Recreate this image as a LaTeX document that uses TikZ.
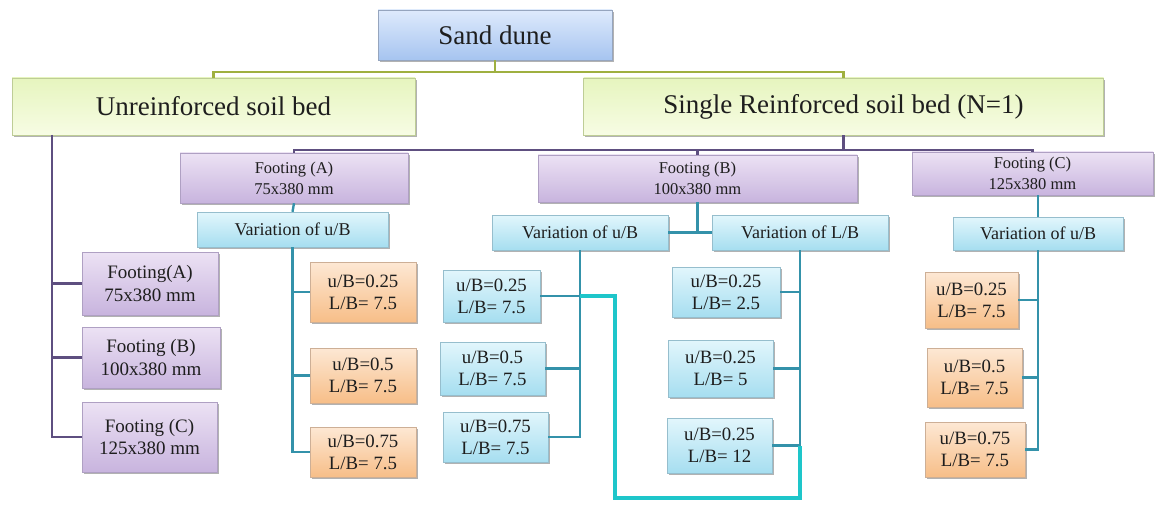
\documentclass[tikz,border=0pt]{standalone}
\usepackage{fontspec}
\setmainfont{Liberation Serif}
\usetikzlibrary{shadows}
\definecolor{txt}{HTML}{1E1E1E}
\definecolor{lgreen}{HTML}{9FB040}
\definecolor{lpurp}{HTML}{5E4F80}
\definecolor{lteal}{HTML}{3492AA}
\definecolor{lcyan}{HTML}{1EC6CA}
\tikzset{
  box/.style={rectangle, inner sep=0pt, align=center, text=txt,
    drop shadow={shadow xshift=1.5pt, shadow yshift=-2pt, opacity=0.3, fill=black}},
  bluebox/.style={box, draw={rgb,255:red,150;green,165;blue,190},
    top color={rgb,255:red,222;green,234;blue,252}, bottom color={rgb,255:red,166;green,196;blue,240}},
  grnbox/.style={box, draw={rgb,255:red,190;green,205;blue,150},
    top color={rgb,255:red,230;green,245;blue,190}, bottom color={rgb,255:red,247;green,252;blue,228}},
  purbox/.style={box, draw={rgb,255:red,175;green,160;blue,195},
    top color={rgb,255:red,236;green,226;blue,244}, bottom color={rgb,255:red,200;green,180;blue,222}},
  cyanbox/.style={box, draw={rgb,255:red,150;green,190;blue,205},
    top color={rgb,255:red,226;green,246;blue,252}, bottom color={rgb,255:red,166;green,222;blue,240}},
  orgbox/.style={box, draw={rgb,255:red,205;green,175;blue,150},
    top color={rgb,255:red,253;green,232;blue,212}, bottom color={rgb,255:red,247;green,190;blue,136}},
  big/.style={font=\fontsize{27}{30}\selectfont},
  mid/.style={font=\fontsize{16.5}{21}\selectfont},
  midl/.style={font=\fontsize{19}{22.5}\selectfont},
  var/.style={font=\fontsize{18}{20}\selectfont},
  val/.style={font=\fontsize{18.8}{22}\selectfont},
  gline/.style={draw=lgreen, line width=2.6pt},
  pline/.style={draw=lpurp, line width=2.6pt},
  tline/.style={draw=lteal, line width=2.4pt},
  hline/.style={draw=lcyan, line width=4pt},
}
\begin{document}
\begin{tikzpicture}[x=1pt, y=-1pt]
\useasboundingbox (0,0) rectangle (1158,505);
% level 0 and 1
\node[bluebox, big, minimum width=234pt, minimum height=50pt] (sd) at (495,35) {Sand dune};
\node[grnbox, big, minimum width=403pt, minimum height=57pt] (unr) at (213.5,106.5) {Unreinforced soil bed};
\node[grnbox, big, minimum width=520pt, minimum height=57pt] (sr) at (843.5,106.5) {Single Reinforced soil bed (N=1)};
% unreinforced footings
\node[purbox, midl, minimum width=136pt, minimum height=63pt] (lA) at (150,283.5) {Footing(A)\\75x380 mm};
\node[purbox, midl, minimum width=138pt, minimum height=61pt] (lB) at (151,357.5) {Footing (B)\\100x380 mm};
\node[purbox, midl, minimum width=135pt, minimum height=70pt] (lC) at (149.5,437) {Footing (C)\\125x380 mm};
% reinforced footings
\node[purbox, mid, minimum width=228pt, minimum height=50pt] (fA) at (294,178) {Footing (A)\\75x380 mm};
\node[purbox, mid, minimum width=319pt, minimum height=47pt] (fB) at (697.5,178.5) {Footing (B)\\100x380 mm};
\node[purbox, mid, minimum width=241pt, minimum height=43pt] (fC) at (1032.5,173.5) {Footing (C)\\125x380 mm};
% variation nodes
\node[cyanbox, var, minimum width=191pt, minimum height=35pt] (vA) at (292.5,229.5) {Variation of u/B};
\node[cyanbox, var, minimum width=176pt, minimum height=35pt] (vBu) at (580,232.5) {Variation of u/B};
\node[cyanbox, var, minimum width=176pt, minimum height=35pt] (vBl) at (800,232.5) {Variation of L/B};
\node[cyanbox, var, minimum width=170pt, minimum height=33pt] (vC) at (1038,233.5) {Variation of u/B};
% footing A values
\node[orgbox, val, minimum width=106pt, minimum height=60pt] (oA1) at (363,292) {u/B=0.25\\L/B= 7.5};
\node[orgbox, val, minimum width=106pt, minimum height=55pt] (oA2) at (363,375.5) {u/B=0.5\\L/B= 7.5};
\node[orgbox, val, minimum width=106pt, minimum height=50pt] (oA3) at (363,452) {u/B=0.75\\L/B= 7.5};
% footing B u/B values
\node[cyanbox, val, minimum width=97pt, minimum height=52pt] (bL1) at (491.5,296) {u/B=0.25\\L/B= 7.5};
\node[cyanbox, val, minimum width=105pt, minimum height=53pt] (bL2) at (492.5,368.5) {u/B=0.5\\L/B= 7.5};
\node[cyanbox, val, minimum width=105pt, minimum height=50pt] (bL3) at (495.5,437) {u/B=0.75\\L/B= 7.5};
% footing B L/B values
\node[cyanbox, val, minimum width=108pt, minimum height=50pt] (bR1) at (726,292) {u/B=0.25\\L/B= 2.5};
\node[cyanbox, val, minimum width=105pt, minimum height=57pt] (bR2) at (720.5,368.5) {u/B=0.25\\L/B= 5};
\node[cyanbox, val, minimum width=105pt, minimum height=55pt] (bR3) at (719.5,445.5) {u/B=0.25\\L/B= 12};
% footing C values
\node[orgbox, val, minimum width=93pt, minimum height=56pt] (oC1) at (971.5,300) {u/B=0.25\\L/B= 7.5};
\node[orgbox, val, minimum width=95pt, minimum height=59pt] (oC2) at (974.5,377.5) {u/B=0.5\\L/B= 7.5};
\node[orgbox, val, minimum width=100pt, minimum height=55pt] (oC3) at (975,449.5) {u/B=0.75\\L/B= 7.5};
% bus points
\coordinate (gbus) at (495,72);
\coordinate (pbus) at (843.5,150);
\coordinate (ut) at (52,135);
\coordinate (tk) at (615,498);
% green connectors
\draw[gline] (sd.south) -- (gbus);
\draw[gline] (unr.north) |- (gbus) -| (sr.north);
% purple connectors
\draw[pline] (sr.south) -- (pbus);
\draw[pline] (fA.north) |- (pbus) -| (fC.north);
\draw[pline] (fB.north) -- (fB.north |- pbus);
\draw[pline] (ut) |- (lC.west);
\draw[pline] (lA.west) -- (lA.west -| ut);
\draw[pline] (lB.west) -- (lB.west -| ut);
% footing A
\draw[tline] (fA.south) -- (vA.north);
\draw[tline] (vA.south) |- (oA3.west);
\draw[tline] (oA1.west) -- (oA1.west -| vA.south);
\draw[tline] (oA2.west) -- (oA2.west -| vA.south);
% footing B
\draw[tline] (fB.south) -- (fB.south |- vBu.east);
\draw[tline] (vBu.east) -- (vBl.west);
\draw[tline] (vBu.south) |- (bL3.east);
\draw[tline] (bL1.east) -- (bL1.east -| vBu.south);
\draw[tline] (bL2.east) -- (bL2.east -| vBu.south);
\draw[tline] (vBl.south) |- (bR3.east);
\draw[tline] (bR1.east) -- (bR1.east -| vBl.south);
\draw[tline] (bR2.east) -- (bR2.east -| vBl.south);
% highlighted path
\draw[hline] (bL1.east -| vBu.south) -| (tk) -| (bR3.east -| vBl.south);
% footing C
\draw[tline] (vC.north) -- (vC.north |- fC.south);
\draw[tline] (vC.south) |- (oC3.east);
\draw[tline] (oC1.east) -- (oC1.east -| vC.south);
\draw[tline] (oC2.east) -- (oC2.east -| vC.south);
\end{tikzpicture}
\end{document}
